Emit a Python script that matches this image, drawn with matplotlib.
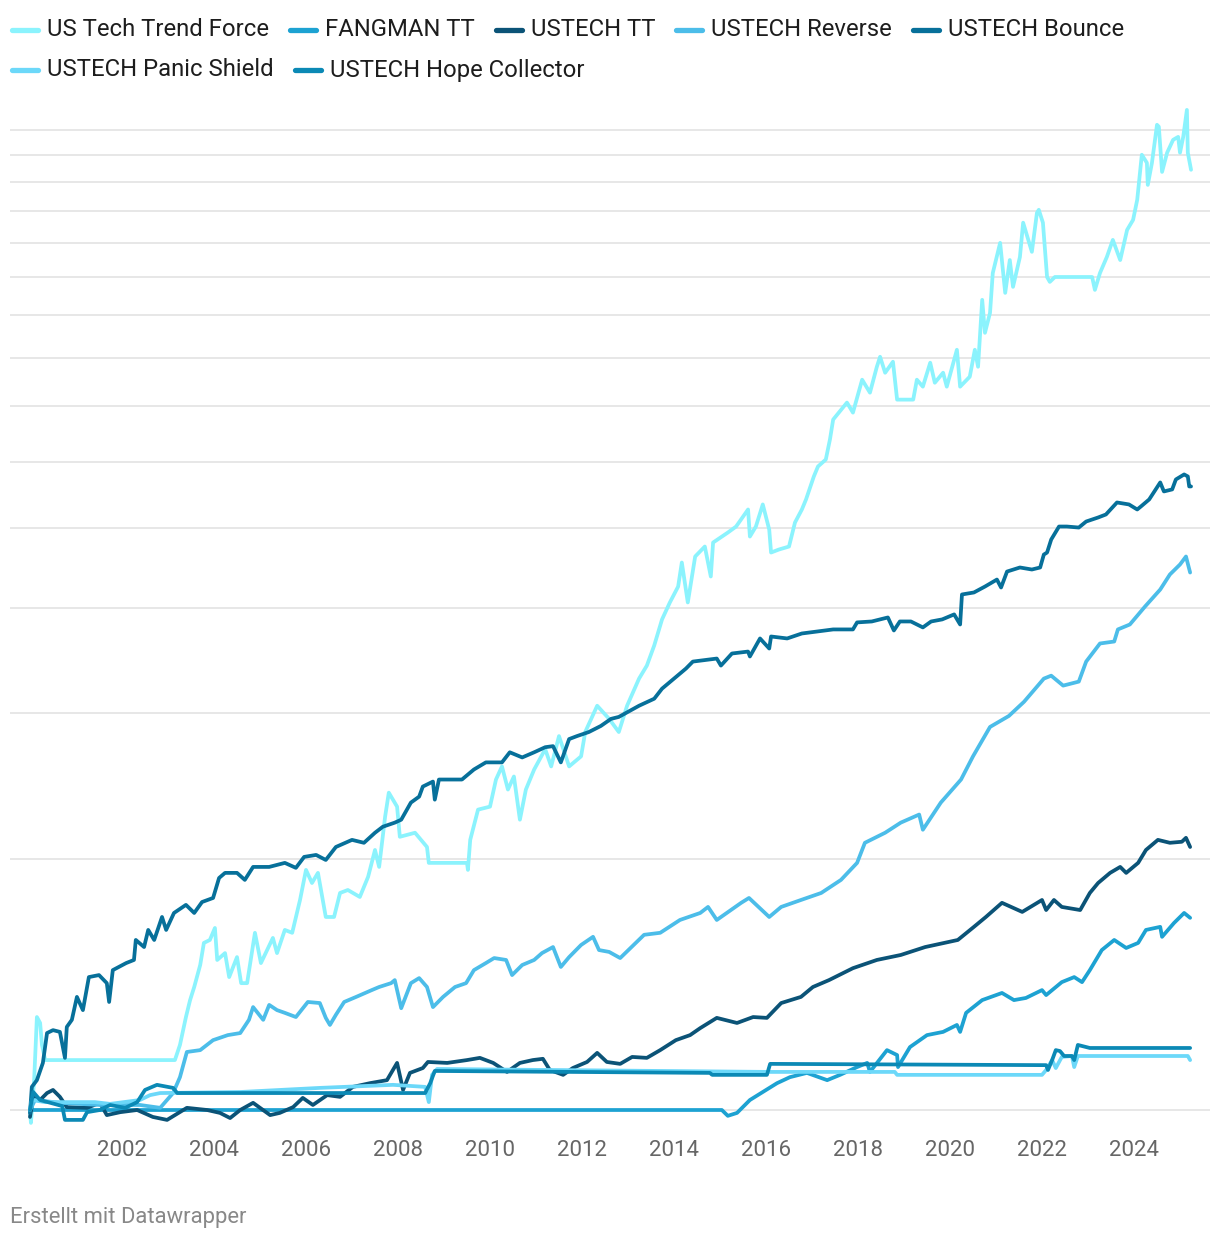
import matplotlib
matplotlib.use("Agg")
import matplotlib.pyplot as plt
from matplotlib.lines import Line2D
from matplotlib.ticker import NullLocator

plt.rcParams["font.family"] = ["Roboto", "DejaVu Sans"]

# growth of 1 (log scale)
NAMES = ["US Tech Trend Force", "FANGMAN TT", "USTECH TT", "USTECH Reverse",
         "USTECH Bounce", "USTECH Panic Shield", "USTECH Hope Collector"]
COLORS = ["#8bf3fd", "#1da2d2", "#0b5377", "#4cbde9", "#07709a", "#6cd8f9", "#0b89b5"]

TF_YEARS = [2000.00, 2000.02, 2000.09, 2000.15, 2000.22, 2000.26, 2000.33, 2003.15, 2003.26, 2003.39,
            2003.48, 2003.57, 2003.70, 2003.78, 2003.91, 2004.02, 2004.07, 2004.24, 2004.33, 2004.50,
            2004.59, 2004.72, 2004.89, 2005.02, 2005.28, 2005.37, 2005.54, 2005.70, 2005.87, 2006.00,
            2006.13, 2006.26, 2006.43, 2006.61, 2006.74, 2006.91, 2007.17, 2007.35, 2007.50, 2007.59,
            2007.72, 2007.80, 2007.98, 2008.04, 2008.37, 2008.63, 2008.67, 2009.50, 2009.52, 2009.57,
            2009.74, 2010.00, 2010.13, 2010.26, 2010.39, 2010.52, 2010.65, 2010.78, 2010.96, 2011.20,
            2011.33, 2011.50, 2011.72, 2011.98, 2012.07, 2012.33, 2012.59, 2012.80, 2012.98, 2013.24,
            2013.41, 2013.57, 2013.74, 2013.91, 2014.09, 2014.17, 2014.30, 2014.46, 2014.67, 2014.80,
            2014.85, 2015.17, 2015.35, 2015.61, 2015.65, 2015.78, 2015.93, 2016.07, 2016.11, 2016.28,
            2016.50, 2016.63, 2016.78, 2016.87, 2017.04, 2017.13, 2017.30, 2017.39, 2017.46, 2017.76,
            2017.89, 2018.09, 2018.26, 2018.41, 2018.48, 2018.59, 2018.76, 2018.85, 2019.20, 2019.28,
            2019.41, 2019.57, 2019.67, 2019.85, 2019.93, 2020.15, 2020.22, 2020.43, 2020.54, 2020.61,
            2020.70, 2020.76, 2020.87, 2020.93, 2021.09, 2021.20, 2021.30, 2021.37, 2021.52, 2021.59,
            2021.78, 2021.89, 2021.93, 2022.02, 2022.11, 2022.17, 2022.28, 2023.09, 2023.15, 2023.26,
            2023.41, 2023.54, 2023.70, 2023.85, 2023.98, 2024.07, 2024.17, 2024.28, 2024.30, 2024.39,
            2024.50, 2024.54, 2024.61, 2024.72, 2024.85, 2024.96, 2025.00, 2025.07, 2025.15, 2025.17,
            2025.24]
TF_VALUES = [1.000, 0.965, 1.086, 1.293, 1.272, 1.197, 1.148, 1.148, 1.197, 1.293,
             1.355, 1.405, 1.493, 1.587, 1.600, 1.654, 1.514, 1.543, 1.444, 1.526,
             1.420, 1.420, 1.632, 1.501, 1.609, 1.543, 1.645, 1.632, 1.787, 1.942,
             1.873, 1.926, 1.705, 1.705, 1.822, 1.837, 1.802, 1.905, 2.052, 1.958,
             2.250, 2.404, 2.313, 2.128, 2.152, 2.069, 1.980, 1.980, 1.942, 2.110,
             2.294, 2.313, 2.493, 2.585, 2.425, 2.514, 2.231, 2.425, 2.563, 2.711,
             2.585, 2.811, 2.585, 2.658, 2.843, 3.057, 2.948, 2.843, 3.057, 3.295,
             3.416, 3.611, 3.881, 4.067, 4.250, 4.542, 4.067, 4.618, 4.747, 4.370,
             4.800, 4.934, 5.017, 5.259, 4.880, 5.017, 5.333, 4.975, 4.669, 4.708,
             4.747, 5.073, 5.259, 5.407, 5.762, 5.923, 6.038, 6.381, 6.743, 7.067,
             6.874, 7.528, 7.264, 7.803, 8.021, 7.675, 7.911, 7.125, 7.125, 7.528,
             7.385, 7.890, 7.466, 7.675, 7.385, 8.178, 7.385, 7.591, 8.178, 7.803,
             9.388, 8.570, 9.056, 10.11, 10.99, 9.571, 10.48, 9.731, 10.57, 11.62,
             10.72, 11.94, 12.04, 11.62, 10.00, 9.866, 10.00, 10.00, 9.650, 10.11,
             10.57, 11.08, 10.48, 11.39, 11.71, 12.38, 14.02, 13.71, 12.90, 13.71,
             15.23, 15.15, 13.37, 14.10, 14.61, 14.73, 14.10, 14.73, 15.87, 14.10,
             13.45]

FANG_YEARS = [2000.00, 2015.04, 2015.17, 2015.37, 2015.65, 2015.93, 2016.24, 2016.52, 2016.89, 2017.33,
              2017.61, 2017.98, 2018.20, 2018.26, 2018.63, 2018.85, 2018.87, 2019.13, 2019.50, 2019.85,
              2020.15, 2020.22, 2020.35, 2020.70, 2021.13, 2021.39, 2021.65, 2022.00, 2022.09, 2022.43,
              2022.70, 2022.87, 2023.04, 2023.30, 2023.57, 2023.83, 2024.09, 2024.26, 2024.57, 2024.61,
              2024.87, 2025.09, 2025.22]
FANG_VALUES = [1.000, 1.000, 0.984, 0.992, 1.028, 1.051, 1.077, 1.095, 1.108, 1.086,
               1.102, 1.126, 1.139, 1.111, 1.180, 1.164, 1.126, 1.190, 1.230, 1.241,
               1.265, 1.241, 1.308, 1.355, 1.382, 1.355, 1.363, 1.393, 1.374, 1.424,
               1.444, 1.424, 1.472, 1.556, 1.600, 1.565, 1.587, 1.645, 1.659, 1.614,
               1.677, 1.724, 1.701]

TT_YEARS = [2000.00, 2000.07, 2000.22, 2000.37, 2000.50, 2000.65, 2000.80, 2001.24, 2001.52, 2001.67,
            2001.96, 2002.33, 2002.67, 2002.98, 2003.41, 2003.85, 2004.13, 2004.35, 2004.57, 2004.85,
            2005.22, 2005.43, 2005.72, 2005.93, 2006.15, 2006.46, 2006.74, 2007.02, 2007.39, 2007.76,
            2007.98, 2008.11, 2008.26, 2008.54, 2008.65, 2009.07, 2009.50, 2009.78, 2010.07, 2010.37,
            2010.65, 2010.93, 2011.15, 2011.30, 2011.59, 2011.80, 2012.11, 2012.33, 2012.54, 2012.83,
            2013.09, 2013.41, 2013.70, 2014.04, 2014.35, 2014.57, 2014.93, 2015.37, 2015.72, 2016.02,
            2016.33, 2016.76, 2017.02, 2017.37, 2017.89, 2018.41, 2018.93, 2019.46, 2020.17, 2020.52,
            2020.78, 2021.13, 2021.57, 2022.00, 2022.09, 2022.26, 2022.43, 2022.83, 2023.04, 2023.22,
            2023.48, 2023.70, 2023.83, 2024.09, 2024.26, 2024.52, 2024.78, 2025.04, 2025.13, 2025.22]
TT_VALUES = [0.981, 1.037, 1.028, 1.048, 1.057, 1.037, 1.008, 1.006, 1.020, 0.986,
             0.994, 1.000, 0.981, 0.973, 1.006, 1.000, 0.992, 0.978, 1.000, 1.020,
             0.986, 0.992, 1.008, 1.034, 1.014, 1.042, 1.037, 1.066, 1.077, 1.086,
             1.139, 1.057, 1.108, 1.123, 1.142, 1.139, 1.148, 1.155, 1.139, 1.111,
             1.139, 1.148, 1.152, 1.117, 1.102, 1.123, 1.142, 1.171, 1.142, 1.136,
             1.158, 1.155, 1.180, 1.213, 1.230, 1.254, 1.290, 1.272, 1.293, 1.290,
             1.344, 1.367, 1.405, 1.432, 1.480, 1.514, 1.535, 1.569, 1.600, 1.659,
             1.705, 1.773, 1.729, 1.787, 1.738, 1.787, 1.753, 1.738, 1.822, 1.873,
             1.926, 1.958, 1.926, 1.980, 2.052, 2.110, 2.093, 2.099, 2.122, 2.069]

REV_YEARS = [2000.00, 2000.11, 2000.65, 2001.52, 2002.39, 2002.83, 2003.11, 2003.26, 2003.41, 2003.70,
             2003.98, 2004.30, 2004.57, 2004.76, 2004.85, 2005.07, 2005.20, 2005.37, 2005.54, 2005.78,
             2006.04, 2006.30, 2006.43, 2006.52, 2006.65, 2006.83, 2007.09, 2007.43, 2007.59, 2007.85,
             2007.93, 2008.07, 2008.28, 2008.46, 2008.63, 2008.76, 2008.98, 2009.24, 2009.48, 2009.65,
             2009.91, 2010.09, 2010.35, 2010.48, 2010.70, 2010.96, 2011.13, 2011.37, 2011.54, 2011.72,
             2011.98, 2012.24, 2012.37, 2012.59, 2012.83, 2013.35, 2013.70, 2014.13, 2014.57, 2014.74,
             2014.93, 2015.46, 2015.63, 2016.07, 2016.33, 2016.76, 2017.20, 2017.63, 2017.98, 2018.15,
             2018.59, 2018.93, 2019.33, 2019.41, 2019.80, 2020.24, 2020.50, 2020.87, 2021.28, 2021.61,
             2022.04, 2022.20, 2022.46, 2022.80, 2022.96, 2023.26, 2023.57, 2023.65, 2023.91, 2024.24,
             2024.57, 2024.78, 2025.00, 2025.13, 2025.22]
REV_VALUES = [1.000, 1.028, 1.020, 1.014, 1.014, 1.006, 1.048, 1.095, 1.174, 1.180,
              1.213, 1.230, 1.237, 1.283, 1.329, 1.283, 1.337, 1.318, 1.308, 1.293,
              1.348, 1.344, 1.290, 1.265, 1.301, 1.348, 1.367, 1.393, 1.405, 1.420,
              1.432, 1.325, 1.420, 1.440, 1.405, 1.329, 1.367, 1.405, 1.420, 1.472,
              1.501, 1.522, 1.514, 1.452, 1.493, 1.514, 1.543, 1.569, 1.485, 1.526,
              1.578, 1.614, 1.556, 1.548, 1.522, 1.623, 1.632, 1.691, 1.724, 1.753,
              1.691, 1.773, 1.797, 1.705, 1.753, 1.787, 1.822, 1.889, 1.980, 2.093,
              2.152, 2.213, 2.263, 2.170, 2.339, 2.493, 2.658, 2.883, 2.972, 3.091,
              3.295, 3.322, 3.232, 3.268, 3.454, 3.631, 3.651, 3.775, 3.827, 4.022,
              4.215, 4.394, 4.517, 4.618, 4.418]

BOUNCE_YEARS = [2000.00, 2000.04, 2000.15, 2000.28, 2000.37, 2000.50, 2000.65, 2000.76, 2000.80, 2000.91,
                2001.02, 2001.15, 2001.28, 2001.50, 2001.67, 2001.72, 2001.80, 2002.09, 2002.26, 2002.30,
                2002.48, 2002.57, 2002.70, 2002.87, 2002.96, 2003.13, 2003.39, 2003.57, 2003.74, 2003.98,
                2004.11, 2004.24, 2004.50, 2004.67, 2004.85, 2005.20, 2005.54, 2005.78, 2005.96, 2006.22,
                2006.43, 2006.65, 2007.00, 2007.26, 2007.50, 2007.67, 2007.93, 2008.07, 2008.28, 2008.46,
                2008.54, 2008.76, 2008.80, 2008.89, 2009.39, 2009.65, 2009.91, 2010.26, 2010.43, 2010.70,
                2010.96, 2011.20, 2011.37, 2011.54, 2011.72, 2011.89, 2012.15, 2012.41, 2012.63, 2012.80,
                2013.24, 2013.57, 2013.74, 2014.00, 2014.26, 2014.41, 2014.93, 2015.02, 2015.26, 2015.61,
                2015.65, 2015.87, 2016.07, 2016.11, 2016.46, 2016.78, 2017.13, 2017.46, 2017.89, 2017.98,
                2018.30, 2018.65, 2018.78, 2018.91, 2019.15, 2019.41, 2019.59, 2019.83, 2020.09, 2020.22,
                2020.26, 2020.52, 2020.76, 2021.02, 2021.11, 2021.24, 2021.52, 2021.78, 2021.96, 2022.04,
                2022.11, 2022.20, 2022.37, 2022.54, 2022.80, 2022.96, 2023.22, 2023.39, 2023.63, 2023.89,
                2024.07, 2024.15, 2024.33, 2024.57, 2024.65, 2024.83, 2024.91, 2025.09, 2025.17, 2025.20,
                2025.24]
BOUNCE_VALUES = [0.992, 1.066, 1.086, 1.139, 1.237, 1.247, 1.241, 1.155, 1.258, 1.283,
                 1.367, 1.318, 1.444, 1.452, 1.420, 1.348, 1.472, 1.501, 1.514, 1.600,
                 1.569, 1.645, 1.600, 1.705, 1.645, 1.724, 1.763, 1.724, 1.777, 1.797,
                 1.899, 1.926, 1.926, 1.889, 1.958, 1.958, 1.980, 1.953, 2.013, 2.024,
                 1.996, 2.069, 2.110, 2.093, 2.152, 2.188, 2.213, 2.231, 2.339, 2.378,
                 2.445, 2.479, 2.358, 2.493, 2.493, 2.563, 2.614, 2.614, 2.688, 2.650,
                 2.688, 2.726, 2.734, 2.614, 2.788, 2.811, 2.843, 2.891, 2.948, 2.964,
                 3.057, 3.117, 3.205, 3.295, 3.388, 3.454, 3.483, 3.416, 3.532, 3.551,
                 3.503, 3.682, 3.581, 3.702, 3.682, 3.733, 3.754, 3.775, 3.775, 3.849,
                 3.859, 3.902, 3.764, 3.859, 3.859, 3.796, 3.859, 3.881, 3.935, 3.827,
                 4.158, 4.181, 4.250, 4.333, 4.239, 4.430, 4.480, 4.455, 4.480, 4.643,
                 4.669, 4.840, 5.017, 5.017, 5.003, 5.087, 5.144, 5.187, 5.362, 5.333,
                 5.259, 5.303, 5.407, 5.667, 5.528, 5.559, 5.714, 5.794, 5.762, 5.605,
                 5.605]

PANIC_YEARS = [2000.00, 2000.04, 2000.33, 2001.41, 2001.74, 2002.39, 2002.61, 2002.83, 2004.57, 2006.30,
               2007.89, 2008.59, 2008.67, 2008.74, 2008.85, 2016.09, 2018.80, 2018.85, 2022.00, 2022.09,
               2022.22, 2022.30, 2022.43, 2022.65, 2022.70, 2022.78, 2025.17, 2025.22]
PANIC_VALUES = [1.000, 1.028, 1.022, 1.022, 1.017, 1.028, 1.042, 1.048, 1.051, 1.063,
                1.072, 1.066, 1.022, 1.102, 1.120, 1.111, 1.111, 1.102, 1.102, 1.117,
                1.148, 1.123, 1.158, 1.161, 1.126, 1.161, 1.161, 1.148]

HOPE_YEARS = [2000.00, 2000.07, 2000.22, 2000.70, 2000.76, 2001.15, 2001.24, 2001.52, 2001.74, 2002.07,
              2002.33, 2002.50, 2002.76, 2003.11, 2003.20, 2008.59, 2008.70, 2008.80, 2014.78, 2014.83,
              2016.02, 2016.09, 2022.09, 2022.13, 2022.22, 2022.30, 2022.39, 2022.48, 2022.65, 2022.70,
              2022.78, 2023.04, 2025.22]
HOPE_VALUES = [1.000, 1.051, 1.028, 1.011, 0.973, 0.973, 0.994, 1.000, 1.014, 1.006,
               1.022, 1.057, 1.072, 1.063, 1.048, 1.048, 1.077, 1.114, 1.108, 1.102,
               1.102, 1.136, 1.132, 1.117, 1.148, 1.180, 1.177, 1.161, 1.161, 1.148,
               1.197, 1.187, 1.187]

GRID_VALUES = list(range(1, 16))
XTICKS = list(range(2002, 2025, 2))

SERIES = [
    (TF_YEARS, TF_VALUES),
    (FANG_YEARS, FANG_VALUES),
    (TT_YEARS, TT_VALUES),
    (REV_YEARS, REV_VALUES),
    (BOUNCE_YEARS, BOUNCE_VALUES),
    (PANIC_YEARS, PANIC_VALUES),
    (HOPE_YEARS, HOPE_VALUES),
]

W, H = 1220, 1240
fig = plt.figure(figsize=(W / 100, H / 100), dpi=100)
fig.patch.set_facecolor("white")

# plot box in pixels: x 10..1210, y 100..1130; value 1 sits at y=1110, 833 px per decade
ax = fig.add_axes([10 / W, 1 - 1130 / H, 1200 / W, 1030 / H])
ax.set_yscale("log")
ax.set_ylim(10 ** (-20 / 833), 10 ** (1010 / 833))
ax.set_xlim(2000 - 20 / 46, 2000 + 1180 / 46)

for v in GRID_VALUES:
    ax.axhline(v, color="#e3e3e3", lw=1.2, zorder=0)

for (xs, ys), c in zip(SERIES, COLORS):
    ax.plot(xs, ys, color=c, lw=2.7, solid_joinstyle="round", solid_capstyle="round", zorder=2)

ax.yaxis.set_major_locator(NullLocator())
ax.yaxis.set_minor_locator(NullLocator())
ax.set_xticks(XTICKS)
ax.set_xticklabels([str(t) for t in XTICKS])
ax.xaxis.set_minor_locator(NullLocator())
ax.tick_params(axis="x", length=0, pad=7, labelsize=16, labelcolor="#666666")
for s in ax.spines.values():
    s.set_visible(False)
ax.set_facecolor("none")

# legend, laid out left to right in two rows like the original
renderer = fig.canvas.get_renderer()
rows = [(30, range(0, 5)), (70, range(5, 7))]
for ypx, idx in rows:
    x = 10
    for i in idx:
        yf = 1 - ypx / H
        fig.add_artist(Line2D([(x + 2) / W, (x + 28) / W], [yf, yf], transform=fig.transFigure,
                              color=COLORS[i], lw=3.8, solid_capstyle="round"))
        t = fig.text((x + 37) / W, yf, NAMES[i], fontsize=17.2, color="#1d1d1d",
                     ha="left", va="center")
        wpx = t.get_window_extent(renderer).width
        x = x + 37 + wpx + 19

fig.text(10 / W, 1 - 1217 / H, "Erstellt mit Datawrapper", fontsize=15.8,
         color="#888888", ha="left", va="center")

fig.savefig("out.png", dpi=100, facecolor="white")
